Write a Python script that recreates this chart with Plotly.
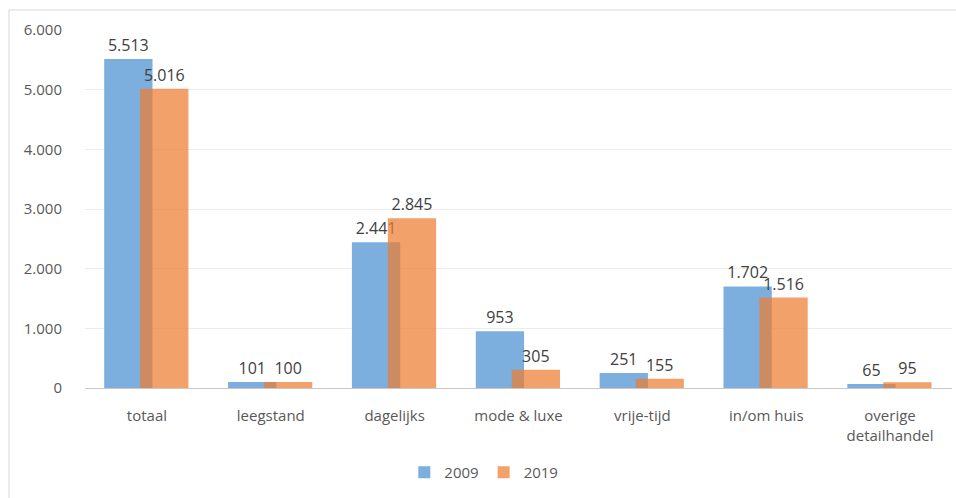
import plotly.graph_objects as go

categories = ["totaal", "leegstand", "dagelijks", "mode &amp; luxe", "vrije-tijd",
              "in/om huis", "overige<br>detailhandel"]
values_2009 = [5513, 101, 2441, 953, 251, 1702, 65]
values_2019 = [5016, 100, 2845, 305, 155, 1516, 95]
y_ticks = [0, 1000, 2000, 3000, 4000, 5000, 6000]

FONT = "Open Sans, sans-serif"
TEXT = "#404040"
AXIS_TEXT = "#595959"

fig = go.Figure()
fig.add_trace(go.Bar(
    x=categories, y=values_2009, name="2009",
    marker=dict(color="rgb(124,175,222)", line=dict(width=0)),
    width=0.39, offset=-0.345,
    text=values_2009, texttemplate="%{y:,}", textposition="outside",
    textfont=dict(size=16, color=TEXT, family=FONT), cliponaxis=False,
))
fig.add_trace(go.Bar(
    x=categories, y=values_2019, name="2019",
    marker=dict(color="rgba(237,125,49,0.72)", line=dict(width=0)),
    width=0.39, offset=-0.055,
    text=values_2019, texttemplate="%{y:,}", textposition="outside",
    textfont=dict(size=16, color=TEXT, family=FONT), cliponaxis=False,
))

fig.update_layout(
    width=956, height=498,
    margin=dict(l=85, r=4, t=30, b=110),
    barmode="overlay",
    separators=",.",
    paper_bgcolor="white", plot_bgcolor="white",
    font=dict(family=FONT, size=15, color=AXIS_TEXT),
    showlegend=True,
    legend=dict(orientation="h", x=0.46, xanchor="center", y=-0.19, yanchor="top",
                font=dict(size=15, color=AXIS_TEXT), itemwidth=30, traceorder="normal"),
    xaxis=dict(showgrid=False, showline=True, linecolor="#c8c8c8", linewidth=1,
               ticks="", tickfont=dict(size=15, color=AXIS_TEXT),
               ticklabelstandoff=14, fixedrange=True),
    yaxis=dict(range=[0, 6000], tickvals=y_ticks, tickformat=",d",
               showgrid=True, gridcolor="#ececec", gridwidth=1,
               zeroline=False, showline=False, ticks="",
               tickfont=dict(size=15, color=AXIS_TEXT), ticklabelstandoff=22),
    shapes=[dict(type="rect", xref="paper", yref="paper",
                 x0=-0.0877, x1=1.01, y0=-0.32, y1=1.0559,
                 line=dict(color="#d9d9d9", width=1), fillcolor="rgba(0,0,0,0)",
                 layer="below")],
)

fig.write_html("out.html")
